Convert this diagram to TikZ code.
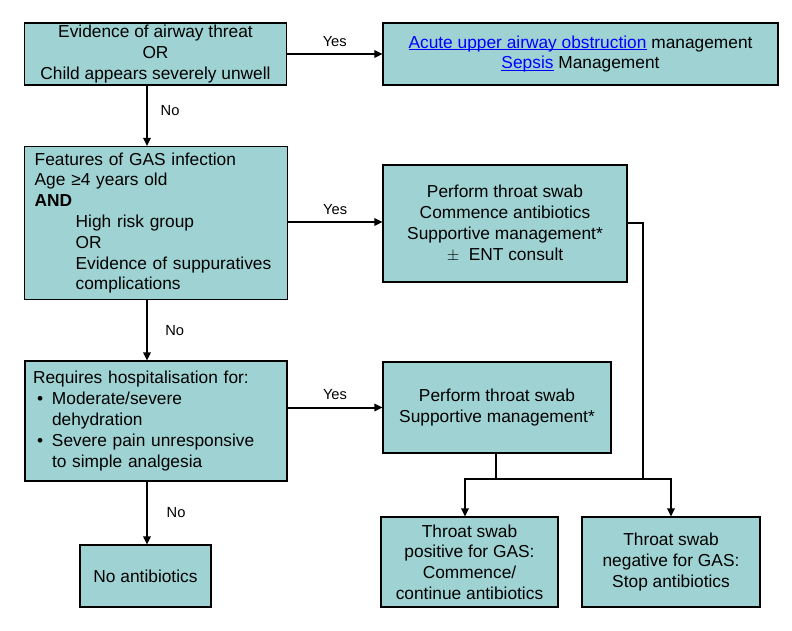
\documentclass[tikz,border=0pt]{standalone}
\usepackage{fontspec}
\setmainfont{Liberation Sans}
\definecolor{boxteal}{RGB}{159, 211, 211}
\definecolor{linkblue}{RGB}{0, 0, 255}
\usetikzlibrary{arrows.meta, positioning, calc}
\newcommand\hlink[1]{\textcolor{linkblue}{\setbox0\hbox{#1}\rlap{\rule[-1.6pt]{\wd0}{0.7pt}}\box0}}

\begin{document}
\begin{tikzpicture}[x=0.75pt, y=-0.75pt,
  stepbox/.style={draw=black, line width=0.8pt, fill=boxteal, align=center, inner sep=0pt, font=\fontsize{13}{15.6}\selectfont},
  flow/.style={line width=1.5pt, -{Triangle[length=6pt, width=5.5pt]}},
  feedline/.style={line width=1.5pt},
  lbl/.style={font=\fontsize{11}{13}\selectfont, inner sep=2pt}]
  \useasboundingbox (0,0) rectangle (792,631);

  % Left column
  \node[stepbox, minimum width=196.5pt, minimum height=46.5pt] (threat) at (155.5,54) {
    Evidence of airway threat\\OR\\Child appears severely unwell};

  \node[stepbox, align=left, text width=182pt, inner xsep=7.5pt, minimum height=114.75pt] (gasfeat) at (156,223) {
    Features of GAS infection\\
    Age ≥4 years old\\
    {\bfseries AND}\\
    \hspace*{30.75pt}High risk group\\
    \hspace*{30.75pt}OR\\
    \hspace*{30.75pt}Evidence of suppuratives\\
    \hspace*{30.75pt}complications};

  \node[stepbox, align=left, text width=184.5pt, inner xsep=6pt, minimum height=90pt] (hosp) at (156,421) {
    Requires hospitalisation for:\\
    \hspace*{3pt}\makebox[11.25pt][l]{\textbullet}Moderate/severe\\
    \hspace*{14.25pt}dehydration\\
    \hspace*{3pt}\makebox[11.25pt][l]{\textbullet}Severe pain unresponsive\\
    \hspace*{14.25pt}to simple analgesia};

  \node[stepbox, minimum width=98.25pt, minimum height=46.5pt] (noabx) at (145.5,576) {No antibiotics};

  % Right column
  \node[stepbox, minimum width=296.25pt, minimum height=46.5pt] (airway) at (580.5,54) {
    \hlink{Acute upper airway obstruction} management\\
    \hlink{Sepsis} Management};

  \node[stepbox, minimum width=183pt, minimum height=87.75pt] (swababx) at (505,223.5) {
    Perform throat swab\\Commence antibiotics\\Supportive management*\\$\pm$\ \ ENT consult};

  \node[stepbox, minimum width=171pt, minimum height=68.25pt] (swabsupp) at (497,407.5) {
    Perform throat swab\\Supportive management*};

  \node[stepbox, minimum width=132.75pt, minimum height=67.5pt] (swabpos) at (469.5,562) {
    Throat swab\\positive for GAS:\\Commence/\\continue antibiotics};

  \node[stepbox, minimum width=133.5pt, minimum height=67.5pt] (swabneg) at (671,562) {
    Throat swab\\negative for GAS:\\Stop antibiotics};

  % Helper points
  \coordinate (nocol) at (147,0);
  \coordinate (merge) at (643,479);
  \coordinate (lft) at (465,479);
  \coordinate (rgt) at (671,479);

  % Yes branches
  \draw[flow] (threat) -- node[lbl, above=3pt] {Yes} (airway);
  \draw[flow] (gasfeat.east |- 0,222) -- node[lbl, above=3pt] {Yes} (swababx.west |- 0,222);
  \draw[flow] (hosp.east |- swabsupp) -- node[lbl, above=3pt] {Yes} (swabsupp.west);

  % No branches
  \draw[flow] (threat.south -| nocol) -- node[lbl, right=7.5pt, pos=0.42] {No} (gasfeat.north -| nocol);
  \draw[flow] (gasfeat.south -| nocol) -- node[lbl, right=11pt] {No} (hosp.north -| nocol);
  \draw[flow] (hosp.south -| nocol) -- node[lbl, right=12pt] {No} (noabx.north -| nocol);

  % Swab results
  \draw[feedline] (swababx.east |- 0,223) -| (merge);
  \draw[feedline] (swabsupp.south -| 496,0) -- (496,479);
  \draw[line width=1.5pt, {Triangle[length=6pt, width=5.5pt]}-{Triangle[length=6pt, width=5.5pt]}]
    (lft |- swabpos.north) -- (lft) -- (rgt) -- (swabneg.north);
\end{tikzpicture}
\end{document}
